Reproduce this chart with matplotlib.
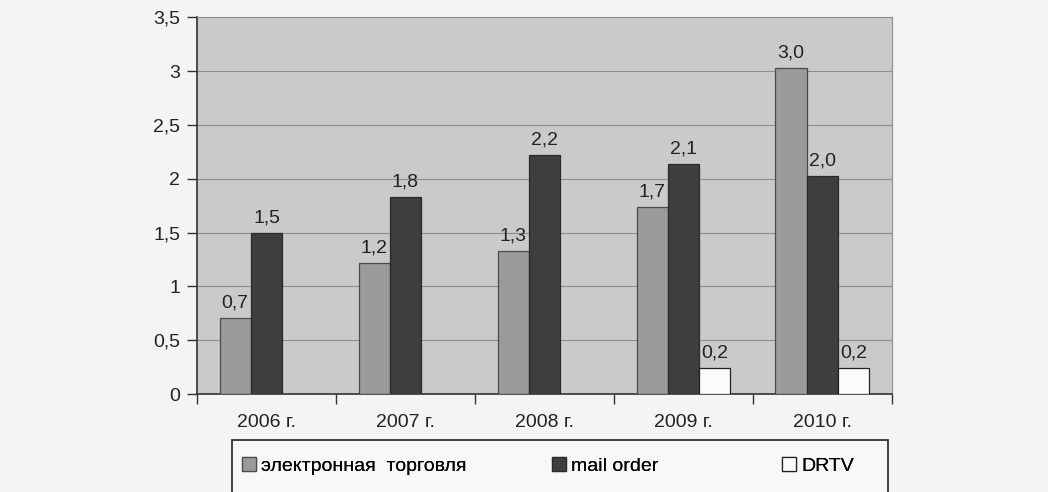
import matplotlib.pyplot as plt
import matplotlib.patches as mpatches
import numpy as np

plt.rcParams['font.family'] = ['Liberation Sans', 'DejaVu Sans']

# data (heights); labels are the rounded values
years = ["2006 г.", "2007 г.", "2008 г.", "2009 г.", "2010 г."]
ecommerce = [0.71, 1.22, 1.33, 1.74, 3.03]
mail_order = [1.50, 1.83, 2.22, 2.14, 2.03]
drtv = [np.nan, np.nan, np.nan, 0.24, 0.24]
series_names = ["электронная  торговля", "mail order", "DRTV"]
y_ticks = [0, 0.5, 1, 1.5, 2, 2.5, 3, 3.5]

fig = plt.figure(figsize=(10.48, 4.92), dpi=100, facecolor="#f4f4f2")
ax = fig.add_axes([0.188, 0.199, 0.663, 0.766])
ax.set_facecolor("#cacaca")

x = np.arange(len(years)) + 0.5
w = 0.225
styles = [
    dict(color="#9a9a9a", edgecolor="#4a4a4a"),
    dict(color="#3e3e3e", edgecolor="#2a2a2a"),
    dict(color="#fbfbfb", edgecolor="#222222"),
]
for k, (vals, name, st) in enumerate(zip([ecommerce, mail_order, drtv], series_names, styles)):
    pos = x + (k - 1) * w
    ax.bar(pos, vals, w, label=name, linewidth=0.9, zorder=3, **st)
    for xi, v in zip(pos, vals):
        if not np.isnan(v):
            ax.text(xi, v + 0.06, f"{v:.1f}".replace(".", ","), ha="center",
                    va="bottom", fontsize=14, color="#222222", zorder=4)

ax.set_xlim(0, len(years))
ax.set_ylim(0, 3.5)
ax.set_yticks(y_ticks)
ax.set_yticklabels([f"{t:g}".replace(".", ",") for t in y_ticks])
ax.set_xticks(x)
ax.set_xticklabels(years)
ax.set_xticks(np.arange(len(years) + 1), minor=True)
ax.tick_params(axis="x", which="major", length=0, pad=14, labelsize=14, colors="#222222")
ax.tick_params(axis="x", which="minor", length=7, direction="out", width=1, color="#333333")
ax.tick_params(axis="y", length=7, width=1, color="#333333", labelsize=14,
               labelcolor="#222222", pad=5)
ax.grid(axis="y", color="#8e8e8e", linewidth=0.8, zorder=1)

for side in ["left", "bottom"]:
    ax.spines[side].set_color("#333333")
    ax.spines[side].set_linewidth(1.2)
for side in ["top", "right"]:
    ax.spines[side].set_color("#8e8e8e")
    ax.spines[side].set_linewidth(0.8)

# legend frame drawn separately (it is wider than its entries)
frame = mpatches.Rectangle((232 / 1048, -0.05), 656 / 1048, 0.156,
                           transform=fig.transFigure, facecolor="#f8f8f6",
                           edgecolor="#222222", linewidth=1.2)
fig.patches.append(frame)
handles, labels = ax.get_legend_handles_labels()
legend_x = [242, 552, 782]
for h, lab, lx in zip(handles, labels, legend_x):
    fig.add_artist(fig.legend([h], [lab], loc="center left",
                              bbox_to_anchor=(lx / 1048, 1 - 466 / 492),
                              frameon=False, fontsize=14, handlelength=0.7,
                              handleheight=0.7, handletextpad=0.3,
                              borderpad=0, borderaxespad=0))

fig.savefig("out.png", dpi=100, facecolor=fig.get_facecolor())
